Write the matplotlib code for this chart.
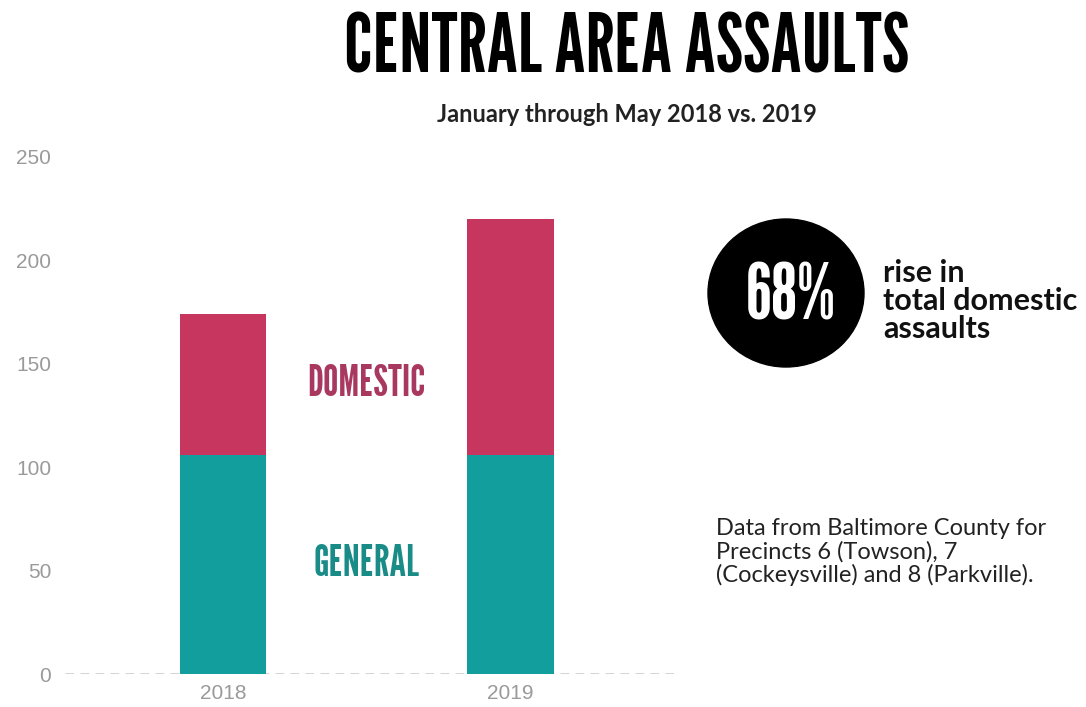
import matplotlib
matplotlib.use("Agg")
import matplotlib.pyplot as plt
from matplotlib.patches import Ellipse

years = ["2018", "2019"]
general = [106, 106]
domestic = [68, 114]
yticks = [0, 50, 100, 150, 200, 250]

teal = "#139e9e"
crimson = "#c6365e"
condensed = ["League Gothic", "Anton", "Oswald", "DejaVu Sans"]
body = ["Lato", "DejaVu Sans"]

fig = plt.figure(figsize=(10.86, 7.07), dpi=100)
ax = fig.add_axes([65 / 1086, 1 - 674 / 707, (680 - 65) / 1086, (674 - 157) / 707])

x = list(range(len(years)))
ax.bar(x, general, width=0.30, color=teal, zorder=2)
ax.bar(x, domestic, width=0.30, bottom=general, color=crimson, zorder=2)

ax.set_xlim(-0.55, 1.59)
ax.set_ylim(0, 250)
ax.set_yticks(yticks)
ax.set_xticks(x)
ax.set_xticklabels(years)
ax.tick_params(length=0, colors="#9a9a9a", labelsize=15)
for lab in ax.get_xticklabels() + ax.get_yticklabels():
    lab.set_family(["Liberation Sans", "DejaVu Sans"])
ax.tick_params(axis="y", pad=10)
ax.tick_params(axis="x", pad=7)
for s in ax.spines.values():
    s.set_visible(False)
ax.axhline(0, color="#c8c8c8", lw=1.8, ls=(0, (3.5, 2.5)), zorder=1)

# labels between bars
ax.text(0.5, 140, "DOMESTIC", color="#a8385f", ha="center", va="center",
        fontsize=31, fontweight="bold", family=condensed)
ax.text(0.5, 53, "GENERAL", color="#1a8c88", ha="center", va="center",
        fontsize=31, fontweight="bold", family=condensed)

# title
fig.text(627 / 1086, 1 - 50 / 707, "CENTRAL AREA ASSAULTS", ha="center", va="center",
         fontsize=58, fontweight="bold", family=condensed, color="black")
fig.text(627 / 1086, 1 - 115 / 707, "January through May 2018 vs. 2019", ha="center",
         va="center", fontsize=17, fontweight="bold", family=body, color="#222222")

# circle callout
fig.add_artist(Ellipse((786 / 1086, 1 - 293 / 707), width=156 / 1086, height=148 / 707,
                       transform=fig.transFigure, color="black"))
fig.text(791 / 1086, 1 - 298 / 707, "68%", ha="center", va="center", color="white",
         fontsize=55, fontweight="bold", family=condensed)
fig.text(883 / 1086, 1 - 301 / 707, "rise in\ntotal domestic\nassaults", ha="left",
         va="center", fontsize=22, fontweight="bold", family=body, color="#111111",
         linespacing=0.98)

fig.text(716 / 1086, 1 - 552 / 707,
         "Data from Baltimore County for\nPrecincts 6 (Towson), 7\n(Cockeysville) and 8 (Parkville).",
         ha="left", va="center", fontsize=17, family=body, color="#222222", linespacing=1.07)

fig.savefig("out.png", dpi=100)
